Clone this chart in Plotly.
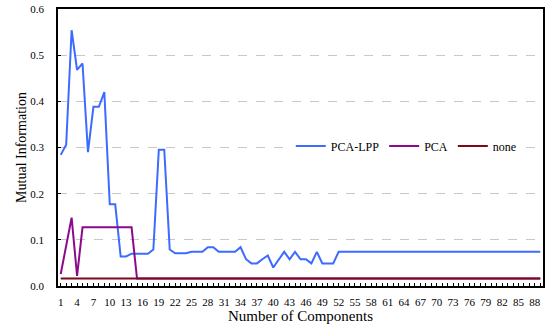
import plotly.graph_objects as go

components = list(range(1, 90))

pca_lpp = [0.284, 0.306, 0.554, 0.468, 0.482, 0.290, 0.388, 0.388, 0.420, 0.177,
           0.177, 0.064, 0.064, 0.070, 0.070, 0.070, 0.070, 0.079, 0.295, 0.295,
           0.079, 0.071, 0.071, 0.071, 0.074, 0.074, 0.074, 0.084, 0.084, 0.074,
           0.074, 0.074, 0.074, 0.084, 0.058, 0.049, 0.049, 0.058, 0.066, 0.040,
           0.058, 0.074, 0.058, 0.074, 0.058, 0.058, 0.049, 0.074, 0.049, 0.049,
           0.049] + [0.074] * 38

pca = [0.026, 0.087, 0.148, 0.022] + [0.127] * 10 + [0.016] * 75

none = [0.016] * 89

series = [("PCA-LPP", pca_lpp, "#3D6BFF"),
          ("PCA", pca, "#8B0A8B"),
          ("none", none, "#7A0A1A")]

fig = go.Figure()
for name, vals, col in series:
    fig.add_trace(go.Scatter(x=components, y=vals, mode="lines", name=name,
                             line=dict(color=col, width=2)))

font = "Liberation Serif"
fig.update_layout(
    width=548, height=325,
    margin=dict(l=58, r=3, t=7, b=39),
    paper_bgcolor="white", plot_bgcolor="white",
    font=dict(family=font, color="black", size=11),
    legend=dict(orientation="h", x=0.48, y=0.505, xanchor="left", yanchor="middle",
                bgcolor="white", font=dict(size=12, family=font, color="black"),
                itemwidth=30, tracegroupgap=0),
    showlegend=True,
)
fig.update_xaxes(
    range=[0.5, 89.5], tickmode="linear", tick0=1, dtick=3,
    ticks="inside", ticklen=3, tickcolor="black",
    minor=dict(dtick=1, tick0=1, ticks="inside", ticklen=3, tickcolor="black"),
    showgrid=False, zeroline=False,
    showline=True, linecolor="black", linewidth=1.5, mirror=True,
    title=dict(text="Number of Components", font=dict(size=15, family=font, color="black"), standoff=0),
    tickfont=dict(size=11, family=font, color="black"),
    ticklabelstandoff=5,
)
fig.update_yaxes(
    range=[0, 0.6], tickmode="linear", tick0=0, dtick=0.1, tickformat=".1f",
    ticks="inside", ticklen=3, tickcolor="black",
    showgrid=True, gridcolor="#C8C8C8", griddash="dash", gridwidth=1,
    zeroline=False,
    showline=True, linecolor="black", linewidth=1.5, mirror=True,
    title=dict(text="Mutual Information", font=dict(size=14, family=font, color="black"), standoff=0),
    tickfont=dict(size=11, family=font, color="black"),
    ticklabelstandoff=10,
)

fig.write_html("out.html")
